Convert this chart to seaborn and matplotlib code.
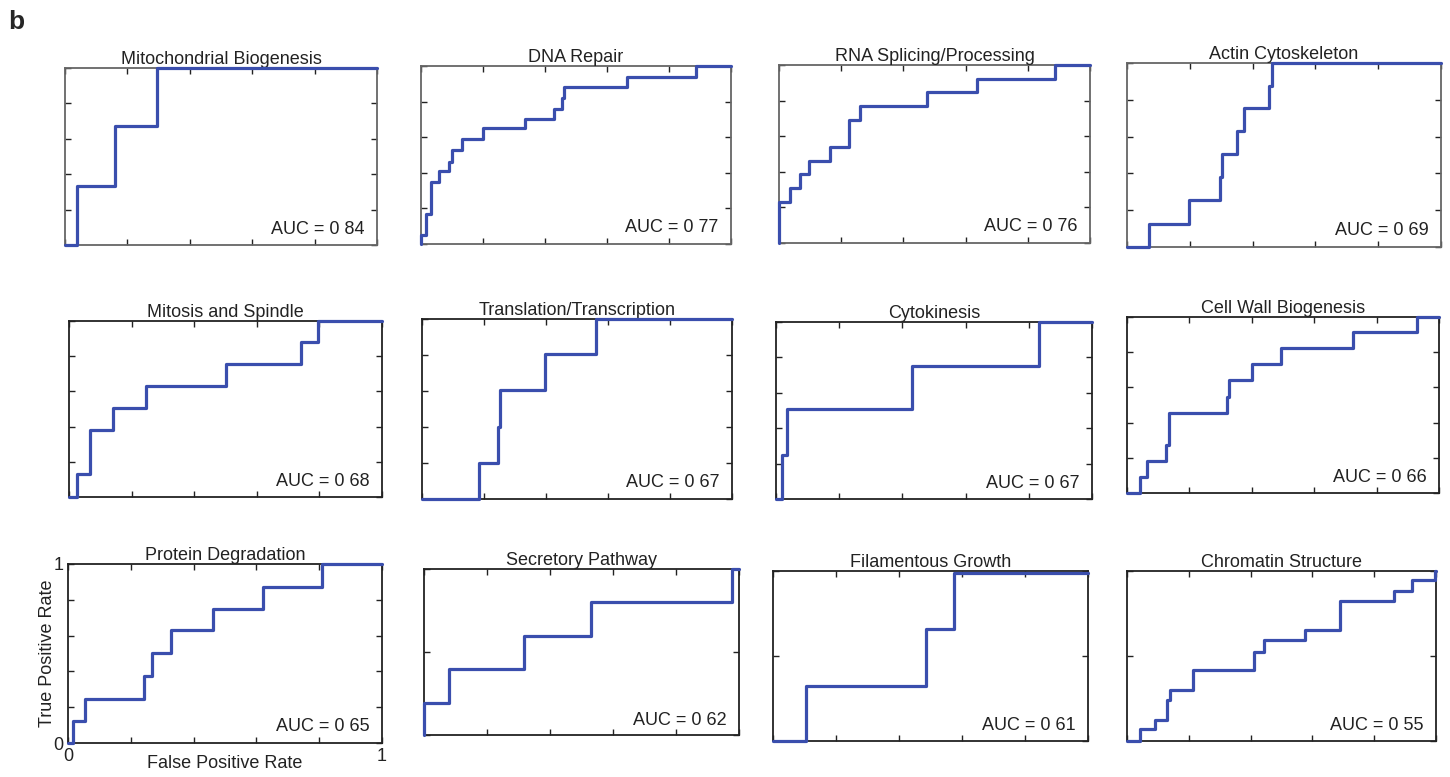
import numpy as np
import pandas as pd
import matplotlib
matplotlib.use("Agg")
import matplotlib.pyplot as plt
import seaborn as sns

# ---------------- data (step corners: at fpr x the tpr jumps to y) ----------------
titles = ["Mitochondrial Biogenesis", "DNA Repair", "RNA Splicing/Processing", "Actin Cytoskeleton",
          "Mitosis and Spindle", "Translation/Transcription", "Cytokinesis", "Cell Wall Biogenesis",
          "Protein Degradation", "Secretory Pathway", "Filamentous Growth", "Chromatin Structure"]
auc_labels = ["AUC = 0 84", "AUC = 0 77", "AUC = 0 76", "AUC = 0 69",
              "AUC = 0 68", "AUC = 0 67", "AUC = 0 67", "AUC = 0 66",
              "AUC = 0 65", "AUC = 0 62", "AUC = 0 61", "AUC = 0 55"]

fpr_mito = [0, 0.037, 0.16, 0.296, 1.0]
tpr_mito = [0, 0.335, 0.67, 1.0, 1.0]

fpr_dna = [0, 0, 0.015, 0.031, 0.059, 0.091, 0.101, 0.131, 0.199, 0.334, 0.429, 0.454, 0.462, 0.664, 0.887, 1.0]
tpr_dna = [0, 0.05, 0.17, 0.35, 0.41, 0.46, 0.53, 0.59, 0.65, 0.70, 0.76, 0.82, 0.88, 0.94, 1.0, 1.0]

fpr_rna = [0, 0, 0.036, 0.067, 0.097, 0.165, 0.224, 0.261, 0.475, 0.637, 0.886, 1.0]
tpr_rna = [0, 0.23, 0.31, 0.39, 0.46, 0.54, 0.69, 0.77, 0.85, 0.92, 1.0, 1.0]

fpr_actin = [0, 0.070, 0.196, 0.296, 0.303, 0.350, 0.373, 0.453, 0.463, 1.0]
tpr_actin = [0, 0.127, 0.253, 0.378, 0.504, 0.631, 0.755, 0.873, 1.0, 1.0]

fpr_mitosis = [0, 0.027, 0.068, 0.139, 0.246, 0.501, 0.740, 0.796, 1.0]
tpr_mitosis = [0, 0.129, 0.379, 0.504, 0.629, 0.754, 0.879, 1.0, 1.0]

fpr_transl = [0, 0.185, 0.245, 0.252, 0.398, 0.561, 1.0]
tpr_transl = [0, 0.20, 0.40, 0.606, 0.803, 1.0, 1.0]

fpr_cytok = [0, 0.018, 0.034, 0.431, 0.831, 1.0]
tpr_cytok = [0, 0.25, 0.507, 0.754, 1.0, 1.0]

fpr_cellwall = [0, 0.042, 0.064, 0.126, 0.134, 0.320, 0.328, 0.400, 0.492, 0.723, 0.930, 1.0]
tpr_cellwall = [0, 0.089, 0.179, 0.27, 0.457, 0.547, 0.642, 0.732, 0.823, 0.913, 1.0, 1.0]

fpr_protein = [0, 0.016, 0.055, 0.243, 0.268, 0.328, 0.463, 0.622, 0.81, 1.0]
tpr_protein = [0, 0.121, 0.245, 0.372, 0.502, 0.632, 0.749, 0.874, 1.0, 1.0]

fpr_secret = [0, 0, 0.079, 0.317, 0.529, 0.978, 1.0]
tpr_secret = [0, 0.19, 0.398, 0.594, 0.799, 1.0, 1.0]

fpr_filam = [0, 0.105, 0.485, 0.575, 1.0]
tpr_filam = [0, 0.325, 0.661, 0.99, 0.99]

fpr_chrom = [0, 0.041, 0.090, 0.128, 0.140, 0.213, 0.412, 0.444, 0.577, 0.688, 0.865, 0.922, 0.998, 1.0]
tpr_chrom = [0, 0.069, 0.125, 0.239, 0.302, 0.416, 0.524, 0.592, 0.651, 0.822, 0.882, 0.945, 1.0, 1.0]

fprs = [fpr_mito, fpr_dna, fpr_rna, fpr_actin, fpr_mitosis, fpr_transl, fpr_cytok, fpr_cellwall,
        fpr_protein, fpr_secret, fpr_filam, fpr_chrom]
tprs = [tpr_mito, tpr_dna, tpr_rna, tpr_actin, tpr_mitosis, tpr_transl, tpr_cytok, tpr_cellwall,
        tpr_protein, tpr_secret, tpr_filam, tpr_chrom]

# ---------------- layout (pixel boxes: left, top, right, bottom) ----------------
W, H = 1450, 777
boxes = [(65, 68, 377, 245), (421, 66, 731, 244), (779, 65, 1090, 243), (1127, 63, 1441, 247),
         (69, 321, 382, 497), (422, 319, 732, 499), (776, 322, 1092, 499), (1127, 317, 1439, 493),
         (68, 564, 382, 743), (424, 569, 739, 735), (773, 571, 1088, 741), (1127, 571, 1436, 741)]

sns.set_style("ticks")
plt.rcParams['font.family'] = ['Liberation Sans', 'DejaVu Sans']

fig = plt.figure(figsize=(W / 100, H / 100), dpi=100)
line_color = "#3A4EAD"
txt_col = "#222222"
fs = 13

for i, (l, t, r, b) in enumerate(boxes):
    ax = fig.add_axes([l / W, 1 - b / H, (r - l) / W, (b - t) / H])
    df = pd.DataFrame({"fpr": fprs[i], "tpr": tprs[i]})
    sns.lineplot(data=df, x="fpr", y="tpr", ax=ax, sort=False, estimator=None,
                 drawstyle="steps-post", color=line_color, linewidth=2.3,
                 clip_on=False, zorder=5)
    ax.set_xlim(0, 1)
    ax.set_ylim(0, 1)
    ax.set_xticks(np.arange(0, 1.01, 0.2))
    if i >= 9:
        ax.set_yticks([0, 0.5, 1])
    else:
        ax.set_yticks(np.arange(0, 1.01, 0.2))
    ax.tick_params(direction="in", top=True, right=True, length=4, width=1,
                   colors=txt_col, labelsize=fs)
    spine_col = "#666666" if i < 4 else "#222222"
    for s in ax.spines.values():
        s.set_color(spine_col)
        s.set_linewidth(1.3)
    ax.set_title(titles[i], fontsize=fs, pad=3, color=txt_col)
    ax.text(0.96, 0.09, auc_labels[i], transform=ax.transAxes, ha="right", va="center",
            fontsize=fs, color=txt_col, zorder=6)
    if i == 8:
        ax.set_xticklabels(["0", "", "", "", "", "1"])
        ax.set_yticklabels(["0", "", "", "", "", "1"])
        ax.set_xlabel("False Positive Rate", fontsize=fs, labelpad=-7, color=txt_col)
        ax.set_ylabel("True Positive Rate", fontsize=fs, labelpad=-2, color=txt_col)
    else:
        ax.set_xticklabels([])
        ax.set_yticklabels([])
        ax.set_xlabel("")
        ax.set_ylabel("")

fig.text(8 / W, 1 - 22 / H, "b", fontsize=19, fontweight="bold", va="center", ha="left")

fig.savefig("out.png", dpi=100)
